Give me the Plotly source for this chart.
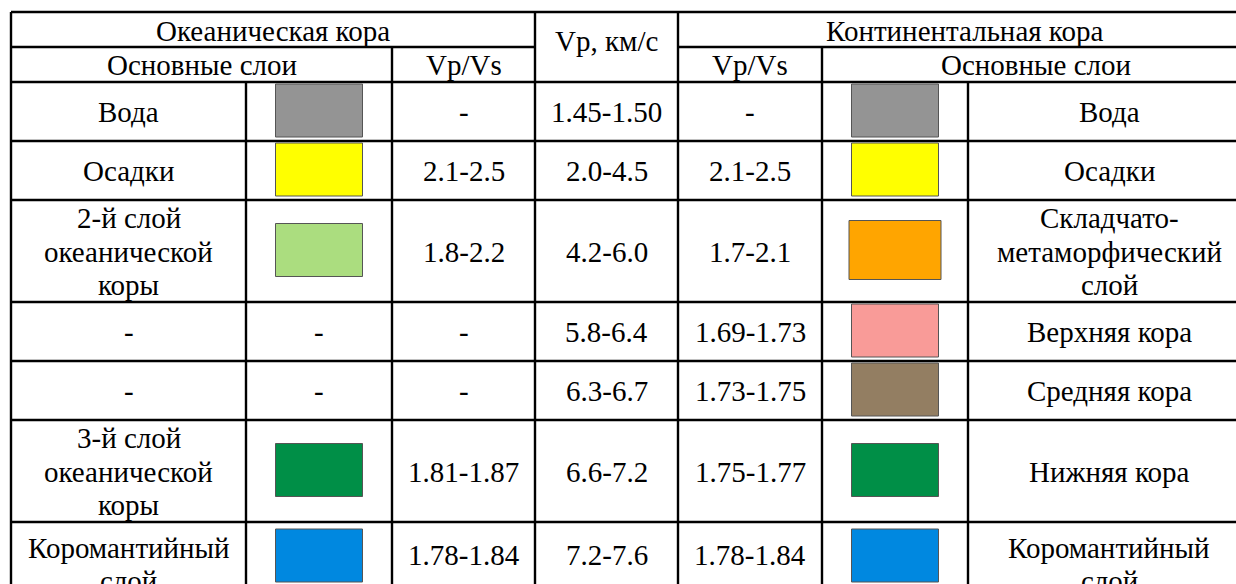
import plotly.graph_objects as go

# ---------------- data ----------------
header_top = ["Океаническая кора", "Vp, км/с", "Континентальная кора"]
header_sub = ["Основные слои", "Vp/Vs", "Vp/Vs", "Основные слои"]

ocean_layers = ["Вода", "Осадки", "2-й слой<br>океанической<br>коры", "-", "-",
                "3-й слой<br>океанической<br>коры", "Коромантийный<br>слой"]
ocean_colors = ["#949494", "#FFFF00", "#ABDD7F", None, None, "#008F47", "#0088E0"]
ocean_vpvs = ["-", "2.1-2.5", "1.8-2.2", "-", "-", "1.81-1.87", "1.78-1.84"]
vp_kms = ["1.45-1.50", "2.0-4.5", "4.2-6.0", "5.8-6.4", "6.3-6.7", "6.6-7.2", "7.2-7.6"]
cont_vpvs = ["-", "2.1-2.5", "1.7-2.1", "1.69-1.73", "1.73-1.75", "1.75-1.77", "1.78-1.84"]
cont_colors = ["#949494", "#FFFF00", "#FFA500", "#F99B98", "#937E62", "#008F47", "#0088E0"]
cont_layers = ["Вода", "Осадки", "Складчато-<br>метаморфический<br>слой", "Верхняя кора",
               "Средняя кора", "Нижняя кора", "Коромантийный<br>слой"]

# ---------------- layout geometry ----------------
W, H = 1236, 584
col_edges = [11, 246, 392, 535, 678, 822, 968, 1250]
row_edges = [12, 47, 82, 141, 200, 302, 361, 420, 522, 640]
FONT = "Liberation Serif, Times New Roman, serif"
FS = 29
LINE_H = 33.3
LW = 2.4

fig = go.Figure()
fig.add_trace(go.Scatter(x=[0, W], y=[0, H], mode="markers",
                         marker=dict(opacity=0), hoverinfo="skip", showlegend=False))

shapes = []
ann = []


def line(x0, y0, x1, y1):
    shapes.append(dict(type="line", x0=x0, y0=y0, x1=x1, y1=y1, xref="x", yref="y",
                       line=dict(color="black", width=LW)))


def text(x, y, s, top=False):
    parts = s.split("<br>")
    k = len(parts)
    for j, p in enumerate(parts):
        if top:
            yy = y + j * LINE_H
        else:
            yy = y + (j - (k - 1) / 2) * LINE_H
        ann.append(dict(x=x, y=yy, text=p, xref="x", yref="y", showarrow=False,
                        font=dict(family=FONT, size=FS, color="black"),
                        xanchor="center", yanchor="middle", align="center"))


c = col_edges
r = row_edges
# horizontal lines
line(c[0], r[0], c[-1], r[0])
line(c[0], r[1], c[3], r[1])
line(c[4], r[1], c[-1], r[1])
for y in r[2:-1]:
    line(c[0], y, c[-1], y)
# vertical lines
line(c[0], r[0], c[0], r[-1])
line(c[3], r[0], c[3], r[-1])
line(c[4], r[0], c[4], r[-1])
line(c[2], r[1], c[2], r[-1])
line(c[5], r[1], c[5], r[-1])
line(c[1], r[2], c[1], r[-1])
line(c[6], r[2], c[6], r[-1])

# header texts
text((c[0] + c[3]) / 2, (r[0] + r[1]) / 2 + 1, header_top[0])
text((c[3] + c[4]) / 2, 41, header_top[1])
text((c[4] + c[-1]) / 2, (r[0] + r[1]) / 2 + 1, header_top[2])
text((c[0] + c[2]) / 2, (r[1] + r[2]) / 2 + 0.5, header_sub[0])
text((c[2] + c[3]) / 2, (r[1] + r[2]) / 2 + 0.5, header_sub[1])
text((c[4] + c[5]) / 2, (r[1] + r[2]) / 2 + 0.5, header_sub[2])
text((c[5] + c[-1]) / 2, (r[1] + r[2]) / 2 + 0.5, header_sub[3])

n = len(vp_kms)
for i in range(n):
    top, bot = r[2 + i], r[3 + i]
    last = (i == n - 1)
    cy = (top + bot) / 2 + 0.5
    sy = (top + bot) / 2 - 1 if not last else top + 33.5
    if last:
        text((c[0] + c[1]) / 2, top + 26, ocean_layers[i], top=True)
        text((c[6] + c[7]) / 2, top + 26, cont_layers[i], top=True)
        cy = top + 33
    else:
        text((c[0] + c[1]) / 2, cy, ocean_layers[i])
        text((c[6] + c[7]) / 2, cy, cont_layers[i])
    if ocean_colors[i] is None:
        text((c[1] + c[2]) / 2, cy, "-")
    else:
        sx = (c[1] + c[2]) / 2
        shapes.append(dict(type="rect", x0=sx - 43.5, x1=sx + 43.5, y0=sy - 26.5, y1=sy + 26.5,
                           xref="x", yref="y", fillcolor=ocean_colors[i],
                           line=dict(color="#555555", width=1)))
    text((c[2] + c[3]) / 2, cy, ocean_vpvs[i])
    text((c[3] + c[4]) / 2, cy, vp_kms[i])
    text((c[4] + c[5]) / 2, cy, cont_vpvs[i])
    sx = (c[5] + c[6]) / 2
    hw, hh = (46, 29.5) if cont_colors[i] == "#FFA500" else (43.5, 26.5)
    shapes.append(dict(type="rect", x0=sx - hw, x1=sx + hw, y0=sy - hh, y1=sy + hh,
                       xref="x", yref="y", fillcolor=cont_colors[i],
                       line=dict(color="#555555", width=1)))

fig.update_layout(
    width=W, height=H, margin=dict(l=0, r=0, t=0, b=0),
    paper_bgcolor="white", plot_bgcolor="white",
    xaxis=dict(range=[0, W], visible=False, fixedrange=True),
    yaxis=dict(range=[H, 0], visible=False, fixedrange=True),
    shapes=shapes, annotations=ann, showlegend=False,
)
fig.write_html("out.html", config={"displayModeBar": False},
               post_script="document.body.style.margin='0';"
                           "document.body.style.overflow='hidden';"
                           "document.documentElement.style.overflow='hidden';")
